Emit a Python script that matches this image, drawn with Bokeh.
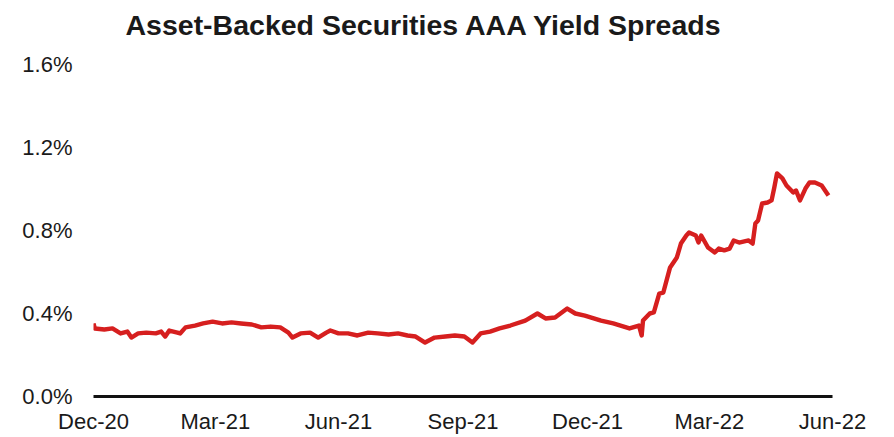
import pandas as pd
from bokeh.plotting import figure
from bokeh.models import FixedTicker, Range1d, Title, ColumnDataSource
from bokeh.embed import file_html
from bokeh.resources import INLINE

# ---- data ----
dates = [
    "2020-12-31", "2021-01-01", "2021-01-08", "2021-01-14", "2021-01-20", "2021-01-25",
    "2021-01-28", "2021-02-02", "2021-02-08", "2021-02-15", "2021-02-19", "2021-02-22",
    "2021-02-25", "2021-03-03", "2021-03-05", "2021-03-09", "2021-03-16", "2021-03-22",
    "2021-03-29", "2021-04-05", "2021-04-12", "2021-04-19", "2021-04-27", "2021-05-04",
    "2021-05-11", "2021-05-18", "2021-05-24", "2021-05-27", "2021-06-02", "2021-06-09",
    "2021-06-15", "2021-06-21", "2021-06-24", "2021-06-30", "2021-07-07", "2021-07-14",
    "2021-07-22", "2021-07-29", "2021-08-06", "2021-08-13", "2021-08-20", "2021-08-26",
    "2021-09-02", "2021-09-09", "2021-09-17", "2021-09-24", "2021-10-01", "2021-10-07",
    "2021-10-13", "2021-10-20", "2021-10-27", "2021-11-04", "2021-11-15", "2021-11-24",
    "2021-11-30", "2021-12-07", "2021-12-16", "2021-12-22", "2021-12-29", "2022-01-10",
    "2022-01-19", "2022-01-31", "2022-02-07", "2022-02-09", "2022-02-10", "2022-02-15",
    "2022-02-18", "2022-02-22", "2022-02-25", "2022-03-02", "2022-03-07", "2022-03-10",
    "2022-03-14", "2022-03-16", "2022-03-21", "2022-03-23", "2022-03-25", "2022-03-30",
    "2022-04-04", "2022-04-07", "2022-04-11", "2022-04-15", "2022-04-18", "2022-04-22",
    "2022-04-29", "2022-05-02", "2022-05-04", "2022-05-06", "2022-05-09", "2022-05-13",
    "2022-05-16", "2022-05-18", "2022-05-20", "2022-05-24", "2022-05-27", "2022-06-01",
    "2022-06-03", "2022-06-06", "2022-06-10", "2022-06-13", "2022-06-17", "2022-06-22",
    "2022-06-27",
]
spreads = [
    0.352, 0.328, 0.323, 0.328, 0.304, 0.313,
    0.284, 0.304, 0.308, 0.304, 0.313, 0.289,
    0.318, 0.308, 0.304, 0.333, 0.342, 0.352,
    0.361, 0.352, 0.357, 0.352, 0.347, 0.333,
    0.337, 0.333, 0.308, 0.284, 0.304, 0.308,
    0.284, 0.308, 0.318, 0.304, 0.304, 0.294,
    0.308, 0.304, 0.299, 0.304, 0.294, 0.289,
    0.260, 0.284, 0.289, 0.294, 0.289, 0.260,
    0.304, 0.313, 0.328, 0.342, 0.366, 0.400,
    0.376, 0.381, 0.424, 0.400, 0.390, 0.366,
    0.352, 0.328, 0.342, 0.294, 0.366, 0.400,
    0.405, 0.496, 0.501, 0.622, 0.670, 0.737,
    0.776, 0.790, 0.776, 0.742, 0.776, 0.718,
    0.694, 0.713, 0.704, 0.713, 0.752, 0.742,
    0.752, 0.737, 0.834, 0.848, 0.930, 0.935,
    0.945, 1.007, 1.075, 1.051, 1.017, 0.983,
    0.993, 0.945, 1.002, 1.031, 1.031, 1.017,
    0.969,
]

x_tick_dates = ["2020-12-31", "2021-03-31", "2021-06-30", "2021-09-30",
                "2021-12-31", "2022-03-31", "2022-06-30"]
x_tick_labels = ["Dec-20", "Mar-21", "Jun-21", "Sep-21", "Dec-21", "Mar-22", "Jun-22"]
y_ticks = [0.0, 0.4, 0.8, 1.2, 1.6]
y_tick_labels = ["0.0%", "0.4%", "0.8%", "1.2%", "1.6%"]
title_text = "Asset-Backed Securities AAA Yield Spreads"

# ---- figure ----
def ms(d):
    return float(pd.Timestamp(d).value // 10**6)

x_ticks_ms = [ms(d) for d in x_tick_dates]

p = figure(width=894, height=437, x_axis_type="datetime",
           output_backend="svg", toolbar_location=None,
           x_range=Range1d(x_ticks_ms[0], x_ticks_ms[-1]),
           y_range=Range1d(0, 1.6),
           min_border_left=93, min_border_right=62,
           min_border_top=64, min_border_bottom=41)

p.outline_line_color = None
p.xgrid.visible = False
p.ygrid.visible = False
p.background_fill_color = "white"
p.border_fill_color = "white"

src = ColumnDataSource(dict(x=pd.to_datetime(dates), y=spreads))
p.line("x", "y", source=src, line_color="#d61f1f", line_width=4.4,
       line_join="round")

# x axis
xa = p.xaxis[0]
xa.ticker = FixedTicker(ticks=x_ticks_ms)
xa.major_label_overrides = {t: l for t, l in zip(x_ticks_ms, x_tick_labels)}
xa.axis_line_color = "#111111"
xa.axis_line_width = 3
xa.major_tick_line_color = None
xa.minor_tick_line_color = None
xa.major_tick_out = 0
xa.major_tick_in = 0
xa.minor_tick_out = 0
xa.minor_tick_in = 0
xa.major_label_text_font = "Liberation Sans"
xa.major_label_text_font_size = "22px"
xa.major_label_text_color = "#1a1a1a"
xa.major_label_standoff = 12

# y axis
ya = p.yaxis[0]
ya.ticker = FixedTicker(ticks=y_ticks)
ya.major_label_overrides = {t: l for t, l in zip(y_ticks, y_tick_labels)}
ya.axis_line_color = None
ya.major_tick_line_color = None
ya.minor_tick_line_color = None
ya.major_tick_out = 0
ya.major_tick_in = 0
ya.minor_tick_out = 0
ya.minor_tick_in = 0
ya.major_label_text_font = "Liberation Sans"
ya.major_label_text_font_size = "22px"
ya.major_label_text_color = "#1a1a1a"
ya.major_label_standoff = 21

# spacer between title and frame, then the title itself
spacer = Title(text=" ", text_font_size="2px", standoff=11)
p.add_layout(spacer, "above")
t = Title(text=title_text, align="left", offset=32, standoff=14,
          vertical_align="top",
          text_font="Liberation Sans", text_font_size="28.5px",
          text_font_style="bold", text_color="#1a1a1a")
p.add_layout(t, "above")

open("out.html", "w").write(file_html(p, INLINE))
